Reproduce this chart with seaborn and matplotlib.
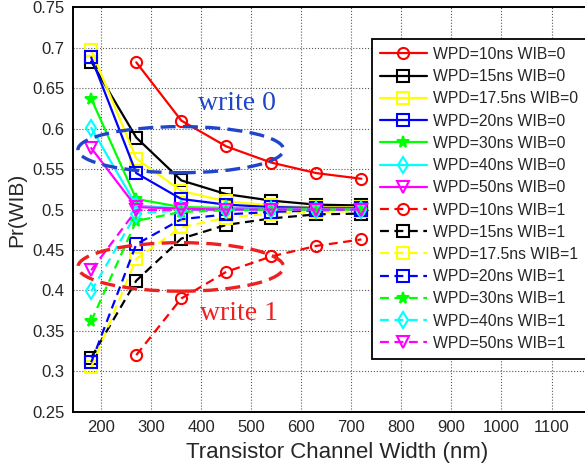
import numpy as np
import pandas as pd
import matplotlib
matplotlib.use("Agg")
import matplotlib.pyplot as plt
from matplotlib.patches import Ellipse
import seaborn as sns

# channel widths (nm)
widths = [180, 270, 360, 450, 540, 630, 720]

# WIB=0 series
w0_10ns = [np.nan, 0.682, 0.610, 0.578, 0.558, 0.545, 0.538]
w0_15ns = [0.683, 0.589, 0.536, 0.519, 0.511, 0.506, 0.505]
w0_17_5ns = [0.697, 0.563, 0.523, 0.510, 0.505, 0.503, 0.503]
w0_20ns = [0.688, 0.545, 0.513, 0.506, 0.503, 0.502, 0.502]
w0_30ns = [0.637, 0.513, 0.503, 0.502, 0.501, 0.501, 0.501]
w0_40ns = [0.601, 0.505, 0.501, 0.501, 0.500, 0.500, 0.500]
w0_50ns = [0.576, 0.503, 0.501, 0.500, 0.500, 0.500, 0.500]

# WIB=1 series
w1_10ns = [np.nan, 0.320, 0.390, 0.423, 0.442, 0.455, 0.463]
w1_15ns = [0.317, 0.412, 0.464, 0.481, 0.489, 0.494, 0.495]
w1_17_5ns = [0.305, 0.439, 0.478, 0.490, 0.495, 0.497, 0.498]
w1_20ns = [0.311, 0.457, 0.488, 0.494, 0.497, 0.499, 0.500]
w1_30ns = [0.362, 0.486, 0.497, 0.499, 0.500, 0.500, 0.500]
w1_40ns = [0.399, 0.495, 0.499, 0.500, 0.500, 0.500, 0.500]
w1_50ns = [0.425, 0.499, 0.500, 0.500, 0.500, 0.500, 0.500]

wpd_labels = ["10ns", "15ns", "17.5ns", "20ns", "30ns", "40ns", "50ns"]
wib0 = [w0_10ns, w0_15ns, w0_17_5ns, w0_20ns, w0_30ns, w0_40ns, w0_50ns]
wib1 = [w1_10ns, w1_15ns, w1_17_5ns, w1_20ns, w1_30ns, w1_40ns, w1_50ns]

colors = ["#ff0000", "#000000", "#ffff00", "#0000ff", "#00ff00", "#00ffff", "#ff00ff"]
markers = ["o", "s", "s", "s", "*", "d", "v"]

ytick_vals = [0.25, 0.3, 0.35, 0.4, 0.45, 0.5, 0.55, 0.6, 0.65, 0.7, 0.75]
ytick_labels = ["0.25", "0.3", "0.35", "0.4", "0.45", "0.5", "0.55", "0.6", "0.65", "0.7", "0.75"]
xtick_vals = [200, 300, 400, 500, 600, 700, 800, 900, 1000, 1100]

sns.set_style("white")
plt.rcParams["font.family"] = ["Liberation Sans", "DejaVu Sans"]

fig = plt.figure(figsize=(5.85, 4.66), dpi=100)
ax = fig.add_axes([0.1243, 0.1165, 0.904, 0.8678])


def draw(vals, wpd, wib, color, marker, ls):
    df = pd.DataFrame({"w": widths, "p": vals}).dropna()
    ms = 8 if marker != "*" else 8.5
    sns.lineplot(data=df, x="w", y="p", ax=ax, color=color, marker=marker,
                 linestyle=ls, linewidth=1.6, markersize=ms,
                 markerfacecolor="none" if marker != "*" else color,
                 markeredgecolor=color, markeredgewidth=1.5,
                 label=f"WPD={wpd} WIB={wib}", legend=False)


for vals, wpd, c, m in zip(wib0, wpd_labels, colors, markers):
    draw(vals, wpd, 0, c, m, "-")
for vals, wpd, c, m in zip(wib1, wpd_labels, colors, markers):
    draw(vals, wpd, 1, c, m, (0, (4, 2.5)))

# hand-drawn style annotation ellipses + text
ax.add_patch(Ellipse((359, 0.574), 411, 0.057, fill=False, edgecolor="#1f45c8",
                     linewidth=2.4, linestyle=(0, (4.5, 2.2)), zorder=5))
ax.add_patch(Ellipse((359, 0.429), 411, 0.060, fill=False, edgecolor="#ee2020",
                     linewidth=2.4, linestyle=(0, (4.5, 2.2)), zorder=5))
ax.text(471, 0.631, "write 0", color="#1f45c8", fontsize=20,
        family="Liberation Serif", ha="center", va="center")
ax.text(476, 0.371, "write 1", color="#ee2020", fontsize=20,
        family="Liberation Serif", ha="center", va="center")

ax.set_xlim(143, 1200)
ax.set_ylim(0.25, 0.75)
ax.set_xticks(xtick_vals)
ax.set_yticks(ytick_vals)
ax.set_yticklabels(ytick_labels)
ax.tick_params(direction="in", length=4, labelsize=12, color="black", pad=6)
ax.grid(True, linestyle=":", color="0.35", linewidth=0.8)
for s in ax.spines.values():
    s.set_color("black")
    s.set_linewidth(1.4)
ax.set_xlabel("Transistor Channel Width (nm)", fontsize=16, labelpad=5)
ax.set_ylabel("Pr(WIB)", fontsize=15, labelpad=4)

leg = ax.legend(loc="upper left", bbox_to_anchor=(0.6354, 0.916),
                bbox_transform=fig.transFigure, fontsize=11.3, frameon=True,
                fancybox=False, edgecolor="black", framealpha=1,
                handlelength=3.0, labelspacing=0.46, borderpad=0.5,
                handletextpad=0.4, borderaxespad=0)
leg.get_frame().set_linewidth(1.3)

fig.savefig("out.png", dpi=100)
